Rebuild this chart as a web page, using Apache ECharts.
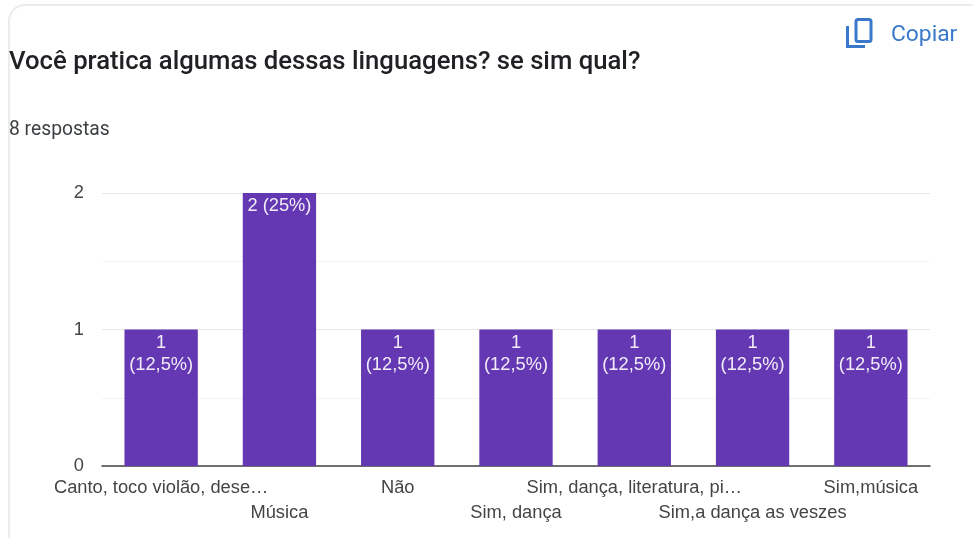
<!DOCTYPE html>
<html>
<head>
<meta charset="utf-8">
<style>
  html, body { margin: 0; padding: 0; background: #fff; }
  #chart { width: 973px; height: 538px; }
</style>
<script src="https://cdn.jsdelivr.net/npm/echarts@6/dist/echarts.min.js"></script>
</head>
<body>
<div id="chart"></div>
<script>
const heading = 'Você pratica algumas dessas linguagens? se sim qual?';
const responseNote = '8 respostas';
const copyText = 'Copiar';
const categories = ['Canto, toco violão, dese…', 'Música', 'Não', 'Sim, dança', 'Sim, dança, literatura, pi…', 'Sim,a dança as veszes', 'Sim,música'];
const counts = [1, 2, 1, 1, 1, 1, 1];
const shares = ['12,5%', '25%', '12,5%', '12,5%', '12,5%', '12,5%', '12,5%'];

const chart = echarts.init(document.getElementById('chart'), null, { renderer: 'canvas' });
const sans = '"Liberation Sans", Arial, sans-serif';

chart.setOption({
  animation: false,
  backgroundColor: '#ffffff',
  title: [
    { text: heading, left: 9, top: 50, padding: 0, textStyle: { fontFamily: 'Roboto, sans-serif', fontSize: 25.7, fontWeight: 500, color: '#202124' } },
    { text: responseNote, left: 9, top: 121, padding: 0, textStyle: { fontFamily: 'Roboto, sans-serif', fontSize: 19.3, fontWeight: 400, color: '#3c4043' } },
    { text: copyText, left: 891, top: 24, padding: 0, textStyle: { fontFamily: 'Roboto, sans-serif', fontSize: 22.8, fontWeight: 400, color: '#3a78c9' } }
  ],
  grid: { left: 102, right: 43, top: 193, bottom: 72, containLabel: false },
  xAxis: {
    type: 'category',
    data: categories,
    axisTick: { show: false },
    axisLine: { lineStyle: { color: '#444444', width: 1.5 } },
    axisLabel: {
      interval: 0,
      margin: 9,
      color: '#444444',
      fontFamily: sans,
      fontSize: 18.3,
      lineHeight: 25,
      // alternate categories drop to a second row so long names do not collide
      formatter: (name, i) => (i % 2 ? '\n' + name : name)
    }
  },
  yAxis: {
    type: 'value',
    min: 0,
    max: 2,
    interval: 1,
    minorTick: { show: false, splitNumber: 2 },
    minorSplitLine: { show: true, lineStyle: { color: '#f3f3f3', width: 1 } },
    splitLine: { lineStyle: { color: '#e6e6e6', width: 1 } },
    axisLine: { show: false },
    axisTick: { show: false },
    axisLabel: { margin: 18, color: '#444444', fontFamily: sans, fontSize: 18.3 }
  },
  series: [{
    type: 'bar',
    data: counts,
    barWidth: '62%',
    itemStyle: { color: '#6438b2' },
    label: {
      show: true,
      position: 'insideTop',
      distance: 2,
      color: '#f1ecf8',
      fontFamily: sans,
      fontSize: 18.3,
      lineHeight: 22,
      formatter: (p) => (p.value > 1
        ? p.value + ' (' + shares[p.dataIndex] + ')'
        : p.value + '\n(' + shares[p.dataIndex] + ')')
    }
  }],
  graphic: [
    // card outline; its right and bottom edges run off the page
    {
      type: 'rect', silent: true, z: -1,
      shape: { x: 9, y: 5, width: 2000, height: 2000, r: 16 },
      style: { fill: null, stroke: '#ececec', lineWidth: 2 }
    },
    // copy icon: front sheet
    {
      type: 'rect', silent: true,
      shape: { x: 856, y: 19.5, width: 15, height: 22, r: 2 },
      style: { fill: null, stroke: '#3a78c9', lineWidth: 3 }
    },
    // copy icon: sheet behind
    {
      type: 'polyline', silent: true,
      shape: { points: [[847.5, 26], [847.5, 46.5], [865, 46.5]] },
      style: { fill: null, stroke: '#3a78c9', lineWidth: 3 }
    }
  ]
});
</script>
</body>
</html>
